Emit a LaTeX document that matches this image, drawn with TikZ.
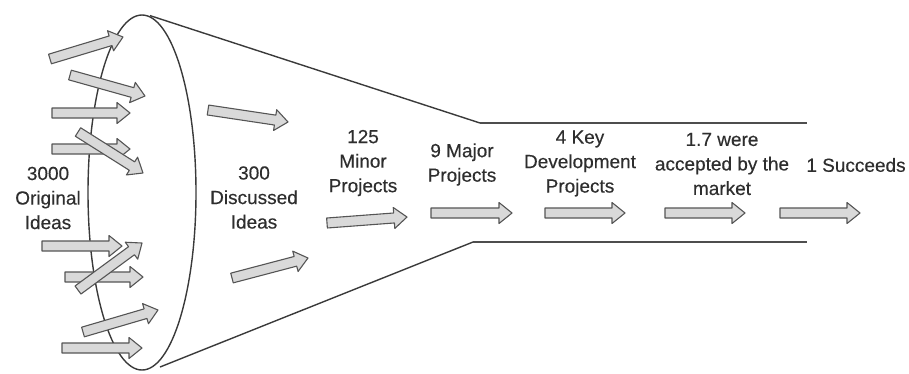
\documentclass[tikz,border=0pt]{standalone}
\usepackage{fontspec}
\setmainfont{Liberation Sans}[FakeBold=0.35]
\newfontfamily\stagefont{Liberation Sans}[FakeBold=0.35]
\usetikzlibrary{calc}

\definecolor{inkgray}{HTML}{2E2E2E}
\definecolor{linegray}{HTML}{3A3A3A}
\definecolor{arrowfill}{HTML}{D9D9D9}
\definecolor{arrowedge}{HTML}{555555}

% block arrow from tail #1 to tip #2
\newcommand\flowarrow[2]{%
  \draw[blockarrow] let \p1=($(#2)-(#1)$), \n1={atan2(\y1,\x1)}, \n2={veclen(\x1,\y1)} in
    [shift={(#1)}, rotate=\n1]
    (0,-5) -- ({\n2-13},-5) -- ({\n2-13},-10.5) -- (\n2,0) --
    ({\n2-13},10.5) -- ({\n2-13},5) -- (0,5) -- cycle;}

\begin{document}
\begin{tikzpicture}[x=1pt, y=-1pt,
  blockarrow/.style={fill=arrowfill, draw=arrowedge, line width=1.1pt, line join=round},
  funnelline/.style={draw=linegray, line width=1.4pt},
  tubeline/.style={draw=linegray!90, line width=2.2pt},
  label/.style={text=inkgray, align=center, inner sep=0pt,
    font=\stagefont\fontsize{19}{24.5}\selectfont}]
\useasboundingbox (0,0) rectangle (909,373);

% funnel mouth and body
\draw[funnelline] (142,192.5) ellipse [x radius=54, y radius=177.5];
\coordinate (topstart) at (150,15.6);
\coordinate (botstart) at (160,367);
\coordinate (neckTop) at (480,123);
\coordinate (neckBot) at (473,242);
\coordinate (endTop) at (807,123);
\coordinate (endBot) at (807,242);
\draw[funnelline] (topstart) -- (neckTop);
\draw[funnelline] (botstart) -- (neckBot);
\draw[tubeline] (neckTop) -- (endTop);
\draw[tubeline] (neckBot) -- (endBot);

% ideas entering the funnel: straight ones first
\flowarrow{52,113}{130,113}
\flowarrow{52,149}{130,149}
\flowarrow{42,246}{122,246}
\flowarrow{65,277}{143,277}
\flowarrow{62,348}{142,348}
% slanted ones on top
\flowarrow{50,59}{123,37}
\flowarrow{70,75}{145,96}
\flowarrow{78,132}{143,173}
\flowarrow{78,290}{142,243}
\flowarrow{83,332}{158,310}

% inside the funnel
\flowarrow{208,110}{288,122}
\flowarrow{232,278}{308,258}
\flowarrow{327,223}{407,217}
\flowarrow{431,213}{512,213}
\flowarrow{545,213}{625,213}
\flowarrow{665,213}{745,213}
\flowarrow{780,213}{860,213}

% stage labels
\node[label] (original) at (48,198) {3000\\Original\\Ideas};
\node[label] (discussed) at (254,197.5) {300\\Discussed\\Ideas};
\node[label] (minor) at (363,163) {125\\Minor\\Projects};
\node[label] (major) at (462,164.5) {9 Major\\Projects};
\node[label] (key) at (580,163.5) {4 Key\\Development\\Projects};
\node[label] (market) at (722,164) {1.7 were\\accepted by the\\market};
\node[label] (success) at (856,165) {1 Succeeds};
\end{tikzpicture}
\end{document}
